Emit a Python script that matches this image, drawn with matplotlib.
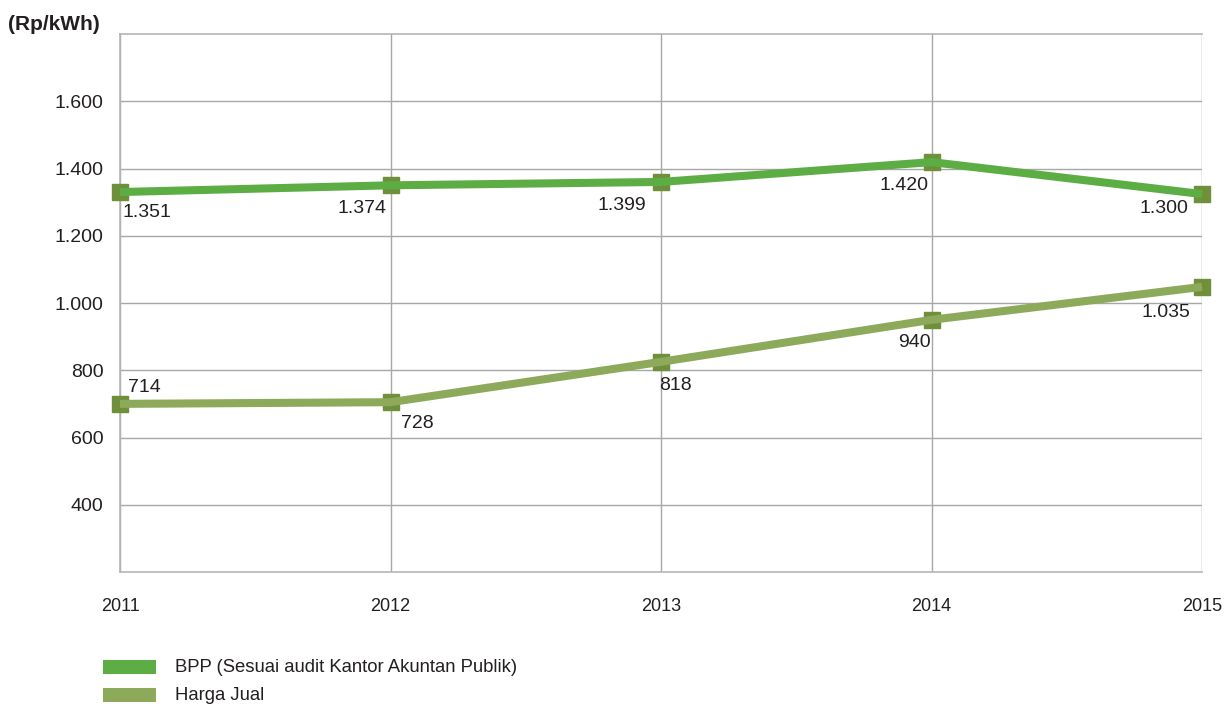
import numpy as np
import matplotlib.pyplot as plt
from matplotlib.patches import Rectangle

plt.rcParams['font.family'] = ['Liberation Sans', 'DejaVu Sans']

years = ['2011', '2012', '2013', '2014', '2015']
# nilai sesuai posisi titik pada grafik
bpp = [1330, 1350, 1360, 1419, 1324]
harga_jual = [700, 705, 825, 950, 1048]
# label angka yang tertulis di grafik
bpp_labels = ['1.351', '1.374', '1.399', '1.420', '1.300']
harga_labels = ['714', '728', '818', '940', '1.035']
yticks = [400, 600, 800, 1000, 1200, 1400, 1600]
ytick_labels = ['400', '600', '800', '1.000', '1.200', '1.400', '1.600']

c_bpp = '#5dad45'
c_harga = '#8caa5a'
c_marker = '#6f8f3b'
c_text = '#231f20'

fig = plt.figure(figsize=(12.26, 7.07), dpi=100)
ax = fig.add_axes([120/1226, 1-572/707, 1082/1226, 538/707])

x = np.arange(len(years))
for vals, col in [(bpp, c_bpp), (harga_jual, c_harga)]:
    ax.plot(x, vals, color=col, lw=5.8, zorder=4, clip_on=False, solid_capstyle='butt')
    ax.plot(x, vals, ls='none', marker='s', ms=11, color=c_marker, zorder=3, clip_on=False)

# offset label (px) dan perataan
bpp_off = [(3, -20, 'left'), (-4, -23, 'right'), (-15, -24, 'right'), (-3, -23, 'right'), (-14, -14, 'right')]
harga_off = [(8, 16, 'left'), (10, -21, 'left'), (-2, -24, 'left'), (-1, -23, 'right'), (-12, -26, 'right')]
for vals, labs, offs in [(bpp, bpp_labels, bpp_off), (harga_jual, harga_labels, harga_off)]:
    for i, (v, lab) in enumerate(zip(vals, labs)):
        dx, dy, ha = offs[i]
        ax.annotate(lab, (x[i], v), xytext=(dx * 0.72, dy * 0.72), textcoords='offset points',
                    ha=ha, va='center', fontsize=14, color=c_text, zorder=6)

ax.set_xlim(0, 4)
ax.set_ylim(200, 1800)
ax.set_yticks(yticks)
ax.set_yticklabels(ytick_labels)
ax.set_xticks(x)
ax.set_xticklabels(years)
ax.tick_params(axis='both', length=0, colors=c_text)
ax.tick_params(axis='x', pad=19, labelsize=13)
ax.tick_params(axis='y', pad=12, labelsize=14)
ax.grid(True, color='#a7a7a7', lw=1)
ax.set_axisbelow(True)
for s in ['left', 'bottom', 'top', 'right']:
    ax.spines[s].set_color('#b5b5b5')
    ax.spines[s].set_linewidth(1.2)
ax.spines['right'].set_visible(False)

fig.text(8/1226, 1-25/707, '(Rp/kWh)', fontsize=15, fontweight='bold', color=c_text, va='center')

# legenda manual
for i, (lab, col) in enumerate([('BPP (Sesuai audit Kantor Akuntan Publik)', c_bpp), ('Harga Jual', c_harga)]):
    yc = 667 + i * 28
    fig.add_artist(Rectangle((103/1226, 1-(yc+7)/707), 53/1226, 14/707, transform=fig.transFigure,
                             color=col, lw=0))
    fig.text(175/1226, 1-yc/707, lab, fontsize=13.3, color=c_text, va='center')

fig.savefig('out.png', dpi=100)
